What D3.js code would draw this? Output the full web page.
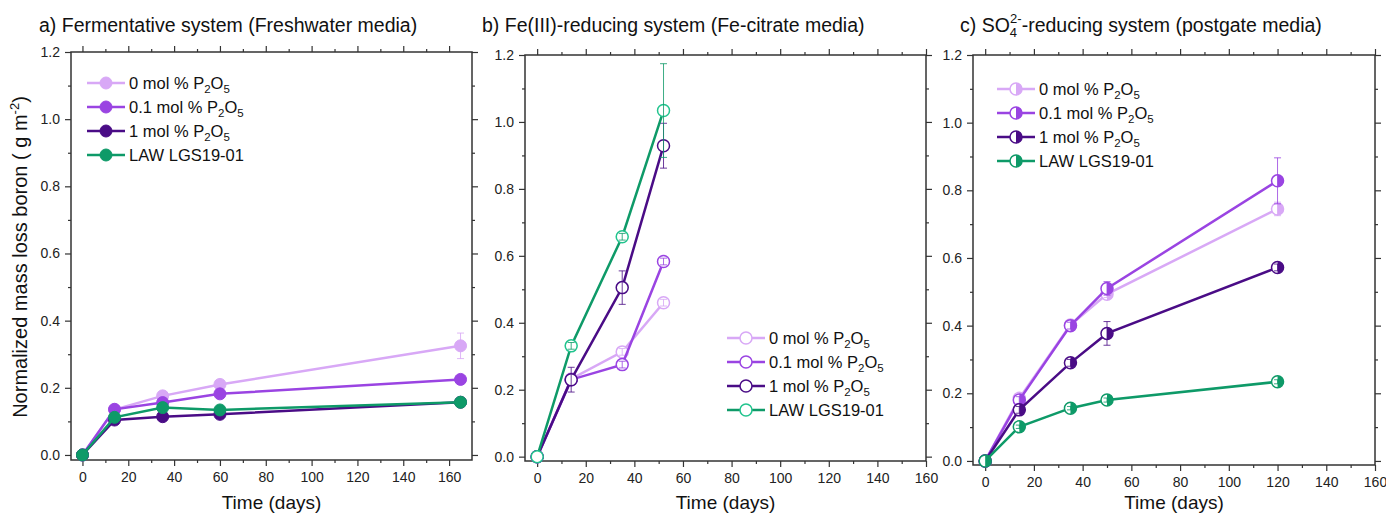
<!DOCTYPE html>
<html>
<head>
<meta charset="utf-8">
<script src="https://cdn.jsdelivr.net/npm/d3@7"></script>
<style>
    body { margin: 0; background: #fff; }
    svg { font-family: "Liberation Sans", Arial, sans-serif; }
</style>
</head>
<body>
<svg id="chart" width="1386" height="518"></svg>
<script>
// series labels and colours
const seriesLabels = ["0 mol % P", "0.1 mol % P", "1 mol % P", "LAW LGS19-01"];
const seriesColors = ["#d8a8f6", "#9a44e2", "#4a0c86", "#0e9a68"];

// a) fermentative system
const daysA = [0, 14, 35, 60, 165];
const a0 = [0, 0.135, 0.176, 0.210, 0.325];
const a0Err = [0, 0.004, 0.008, 0.012, 0.038];
const a01 = [0, 0.136, 0.156, 0.182, 0.225];
const a01Err = [0, 0.004, 0.005, 0.006, 0.006];
const a1 = [0, 0.104, 0.114, 0.121, 0.157];
const a1Err = [0, 0.003, 0.004, 0.004, 0.004];
const aLaw = [0, 0.112, 0.141, 0.134, 0.157];
const aLawErr = [0, 0.004, 0.004, 0.004, 0.004];

// b) Fe(III)-reducing system
const daysB = [0, 14, 35, 52];
const b0 = [0, 0.232, 0.313, 0.460];
const b0Err = [0, 0.01, 0.01, 0.01];
const b01 = [0, 0.230, 0.275, 0.583];
const b01Err = [0, 0.01, 0.01, 0.01];
const b1 = [0, 0.230, 0.505, 0.929];
const b1Err = [0, 0.037, 0.05, 0.067];
const bLaw = [0, 0.331, 0.657, 1.034];
const bLawErr = [0, 0.01, 0.01, 0.14];

// c) SO4-reducing system
const daysC = [0, 14, 35, 50, 120];
const c0 = [0, 0.185, 0.402, 0.493, 0.745];
const c0Err = [0, 0.01, 0.01, 0.01, 0.02];
const c01 = [0, 0.180, 0.400, 0.510, 0.828];
const c01Err = [0, 0.01, 0.01, 0.02, 0.068];
const c1 = [0, 0.151, 0.290, 0.377, 0.572];
const c1Err = [0, 0.01, 0.01, 0.035, 0.01];
const cLaw = [0, 0.101, 0.156, 0.180, 0.234];
const cLawErr = [0, 0.005, 0.005, 0.006, 0.006];

const xTicks = [0, 20, 40, 60, 80, 100, 120, 140, 160];
const yTicks = [0, 0.2, 0.4, 0.6, 0.8, 1.0, 1.2];

const svg = d3.select("#chart");
const axisColor = "#333";

const panels = [
    {
        title: "a) Fermentative system (Freshwater media)", titleX: 39,
        box: [71, 472, 52, 460], xDom: [-5, 170], yDom: [-0.015, 1.2],
        days: daysA, values: [a0, a01, a1, aLaw], errs: [a0Err, a01Err, a1Err, aLawErr],
        marker: "filled", legend: [87, 83]
    },
    {
        title: "b) Fe(III)-reducing system (Fe-citrate media)", titleX: 482,
        box: [525, 926, 55, 461], xDom: [-5, 160], yDom: [-0.013, 1.2],
        days: daysB, values: [b0, b01, b1, bLaw], errs: [b0Err, b01Err, b1Err, bLawErr],
        marker: "open", legend: [727, 338]
    },
    {
        title: "c) SO", titleX: 960, sup: true,
        box: [973, 1375, 55, 465], xDom: [-5, 160], yDom: [-0.012, 1.2],
        days: daysC, values: [c0, c01, c1, cLaw], errs: [c0Err, c01Err, c1Err, cLawErr],
        marker: "half", legend: [997, 89]
    }
];

function drawMarker(g, cx, cy, color, kind, idx) {
    const r = 6;
    if (kind === "filled") {
        g.append("circle").attr("cx", cx).attr("cy", cy).attr("r", r)
            .attr("fill", color).attr("stroke", color).attr("stroke-width", 1);
    } else if (kind === "open") {
        const stroke = idx === 3 ? "#22c48e" : color;
        g.append("circle").attr("cx", cx).attr("cy", cy).attr("r", r)
            .attr("fill", "#fff").attr("stroke", stroke).attr("stroke-width", 1.5);
    } else {
        g.append("circle").attr("cx", cx).attr("cy", cy).attr("r", r)
            .attr("fill", "#fff").attr("stroke", color).attr("stroke-width", 1.5);
        g.append("path")
            .attr("d", `M${cx},${cy - r} A${r},${r} 0 0 1 ${cx},${cy + r} Z`)
            .attr("fill", color);
    }
}

function subLabel(sel, i) {
    if (i === 3) { sel.text(seriesLabels[i]); return; }
    sel.append("tspan").text(seriesLabels[i]);
    sel.append("tspan").attr("font-size", 11.5).attr("dy", 4).text("2");
    sel.append("tspan").attr("dy", -4).text("O");
    sel.append("tspan").attr("font-size", 11.5).attr("dy", 4).text("5");
}

panels.forEach(p => {
    const [l, r, t, b] = p.box;
    const x = d3.scaleLinear().domain(p.xDom).range([l, r]);
    const y = d3.scaleLinear().domain(p.yDom).range([b, t]);
    const g = svg.append("g");

    // title
    const title = g.append("text").attr("x", p.titleX).attr("y", 32)
        .attr("font-size", 19.5).attr("fill", "#111");
    if (p.sup) {
        title.append("tspan").text("c) SO");
        title.append("tspan").attr("font-size", 13).attr("dy", 5).text("4");
        title.append("tspan").attr("font-size", 13).attr("dy", -14).attr("dx", -7).text("2-");
        title.append("tspan").attr("dy", 9).text("-reducing system (postgate media)");
    } else {
        title.text(p.title);
    }

    // axes
    const minorX = d3.range(0, 170, 10).filter(v => v >= p.xDom[0] && v <= p.xDom[1] && v % 20 !== 0);
    const minorY = [0.1, 0.3, 0.5, 0.7, 0.9, 1.1];
    const styleAxis = sel => {
        sel.select(".domain").remove();
        sel.selectAll("line").attr("stroke", axisColor).attr("stroke-width", 1.2);
        sel.selectAll("text").attr("fill", "#222").attr("font-size", 14);
    };
    g.append("g").attr("transform", `translate(0,${b})`)
        .call(d3.axisBottom(x).tickValues(xTicks).tickSize(6).tickPadding(6).tickFormat(d3.format("d")))
        .call(styleAxis);
    g.append("g").attr("transform", `translate(0,${b})`)
        .call(d3.axisBottom(x).tickValues(minorX).tickSize(3).tickFormat(""))
        .call(styleAxis);
    g.append("g").attr("transform", `translate(0,${t})`)
        .call(d3.axisTop(x).tickValues(xTicks).tickSize(6).tickFormat(""))
        .call(styleAxis);
    g.append("g").attr("transform", `translate(0,${t})`)
        .call(d3.axisTop(x).tickValues(minorX).tickSize(3).tickFormat(""))
        .call(styleAxis);
    g.append("g").attr("transform", `translate(${l},0)`)
        .call(d3.axisLeft(y).tickValues(yTicks).tickSize(6).tickPadding(5).tickFormat(d3.format(".1f")))
        .call(styleAxis);
    g.append("g").attr("transform", `translate(${l},0)`)
        .call(d3.axisLeft(y).tickValues(minorY).tickSize(3).tickFormat(""))
        .call(styleAxis);
    g.append("g").attr("transform", `translate(${r},0)`)
        .call(d3.axisRight(y).tickValues(yTicks).tickSize(6).tickFormat(""))
        .call(styleAxis);
    g.append("g").attr("transform", `translate(${r},0)`)
        .call(d3.axisRight(y).tickValues(minorY).tickSize(3).tickFormat(""))
        .call(styleAxis);
    g.append("rect").attr("x", l).attr("y", t).attr("width", r - l).attr("height", b - t)
        .attr("fill", "none").attr("stroke", axisColor).attr("stroke-width", 1.5);

    g.append("text").attr("x", (l + r) / 2).attr("y", 509).attr("text-anchor", "middle")
        .attr("font-size", 19).attr("fill", "#111").text("Time (days)");

    // series
    const line = d3.line().x(d => x(d[0])).y(d => y(d[1]));
    p.values.forEach((vals, si) => {
        const color = seriesColors[si];
        const pts = p.days.map((d, i) => [d, vals[i], p.errs[si][i]]);
        g.append("path").datum(pts).attr("d", line)
            .attr("fill", "none").attr("stroke", color).attr("stroke-width", 2.5);
        const errG = g.append("g");
        pts.forEach(d => {
            if (d[2] <= 0) return;
            const cx = x(d[0]);
            errG.append("line").attr("x1", cx).attr("x2", cx)
                .attr("y1", y(d[1] - d[2])).attr("y2", y(d[1] + d[2]))
                .attr("stroke", color).attr("stroke-width", 1).attr("opacity", 0.8);
            [d[1] - d[2], d[1] + d[2]].forEach(v => {
                errG.append("line").attr("x1", cx - 3.5).attr("x2", cx + 3.5)
                    .attr("y1", y(v)).attr("y2", y(v))
                    .attr("stroke", color).attr("stroke-width", 1).attr("opacity", 0.8);
            });
        });
        pts.forEach(d => drawMarker(g, x(d[0]), y(d[1]), color, p.marker, si));
        if (p.marker !== "filled") errG.raise();
    });

    // legend
    const [lx, ly] = p.legend;
    seriesLabels.forEach((s, i) => {
        const yy = ly + i * 24;
        g.append("line").attr("x1", lx).attr("x2", lx + 38).attr("y1", yy).attr("y2", yy)
            .attr("stroke", seriesColors[i]).attr("stroke-width", 2.5);
        drawMarker(g, lx + 19, yy, seriesColors[i], p.marker, i);
        g.append("text").attr("x", lx + 42).attr("y", yy + 6)
            .attr("font-size", 16.5).attr("fill", "#111").call(sel => subLabel(sel, i));
    });
});

// shared y-axis title
const yTitle = svg.append("text")
    .attr("transform", "translate(27,257) rotate(-90)")
    .attr("text-anchor", "middle").attr("font-size", 20).attr("fill", "#111");
yTitle.append("tspan").text("Normalized mass loss boron ( g m");
yTitle.append("tspan").attr("font-size", 13).attr("dy", -8).text("-2");
yTitle.append("tspan").attr("dy", 8).text(")");
</script>
</body>
</html>
